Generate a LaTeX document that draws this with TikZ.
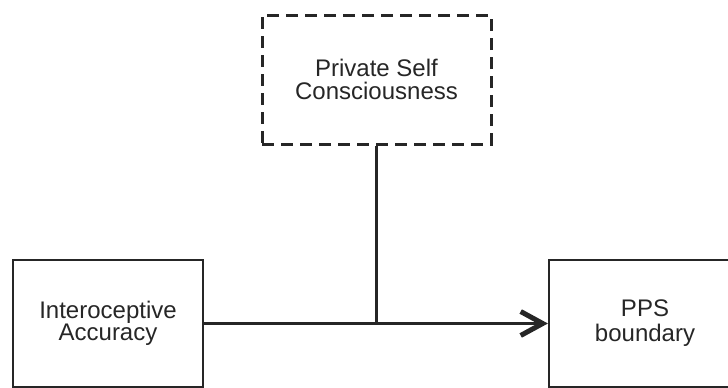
\documentclass[tikz,border=0pt]{standalone}
\usepackage{fontspec}
\setmainfont{Liberation Sans}
\usetikzlibrary{arrows.meta}
\definecolor{ink}{HTML}{262626}
\begin{document}
\begin{tikzpicture}[x=1pt,y=-1pt,
  box/.style={draw=ink, line width=2.2pt, rectangle, minimum width=190pt, minimum height=127pt,
    align=center, text=ink, font=\fontsize{24}{21}\selectfont, inner sep=0pt},
  dbox/.style={box, dash pattern=on 12pt off 7pt, line width=3pt, minimum width=229pt, minimum height=129pt,
    font=\fontsize{24}{23}\selectfont},
  conn/.style={draw=ink, line width=2.3pt}]
\clip (0,0) rectangle (728,388);
\node[box] (ia) at (108,323.5) {Interoceptive\\Accuracy};
\node[box, minimum width=192pt, font=\fontsize{24}{25}\selectfont] (pps) at (645,323.5) {PPS\\boundary};
\node[dbox] (psc) at (376.5,79.5) {Private Self\\Consciousness};
\coordinate (j) at (psc.south |- ia.east);
\draw[conn, -{Straight Barb[length=22pt,width=24pt,line width=5pt]}] (ia.east) -- (pps.west);
\draw[conn] (psc.south) -- (j);
\end{tikzpicture}
\end{document}
